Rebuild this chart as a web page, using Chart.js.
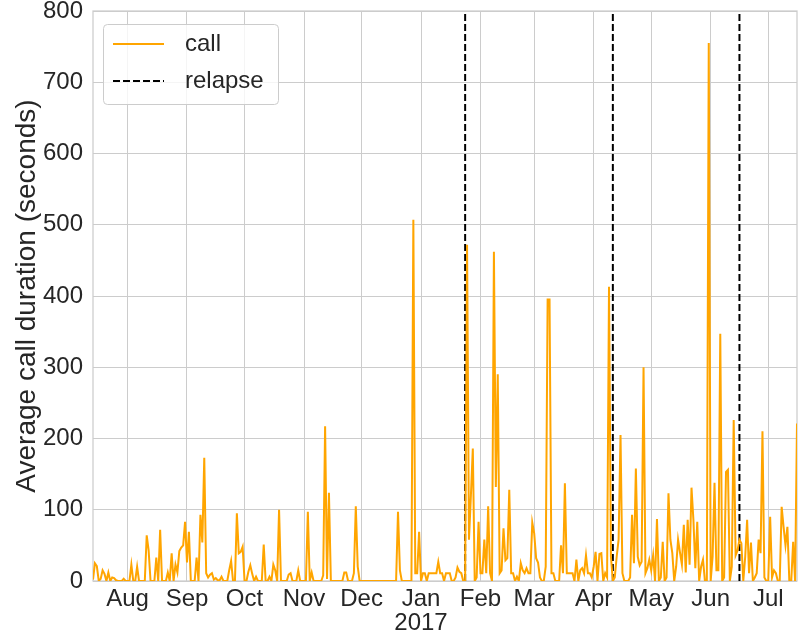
<!DOCTYPE html>
<html>
<head>
<meta charset="utf-8">
<script src="https://cdn.jsdelivr.net/npm/chart.js@4.4.0/dist/chart.umd.min.js"></script>
<style>
  html, body { margin: 0; padding: 0; background: #fff; }
  #wrap { width: 798px; height: 638px; }
</style>
</head>
<body>
<div id="wrap"><canvas id="chart" width="798" height="638"></canvas></div>
<script>
// one value per day, day 0 = 2016-07-14
const callJul16 = [2, 25, 21, 0, 3, 15, 10, 0, 12, 0, 5, 4, 1, 0, 0, 0, 3, 0];
const callAug16 = [0, 0, 23, 0, 0, 20, 0, 0, 0, 0, 64, 43, 0, 0, 0, 33, 0, 72, 0, 0, 0, 12, 0, 39, 0, 23, 12, 42, 47, 50, 83];
const callSep16 = [26, 69, 0, 0, 0, 33, 0, 93, 54, 173, 11, 5, 9, 11, 2, 4, 1, 1, 6, 0, 0, 0, 15, 28, 0, 0, 95, 39, 41, 48];
const callOct16 = [0, 0, 13, 22, 10, 0, 6, 0, 0, 0, 51, 0, 0, 6, 0, 23, 15, 0, 100, 0, 0, 0, 0, 9, 11, 0, 0, 0, 15, 0, 0];
const callNov16 = [0, 0, 97, 0, 12, 0, 0, 0, 0, 0, 8, 217, 3, 124, 0, 0, 0, 0, 0, 0, 0, 12, 12, 0, 0, 0, 11, 105, 20, 0];
const callDec16 = [0, 0, 0, 0, 0, 0, 0, 0, 0, 0, 0, 0, 0, 0, 0, 0, 0, 0, 0, 97, 15, 0, 0, 0, 0, 0, 0, 507, 11, 11, 69];
const callJan17 = [0, 11, 11, 0, 11, 11, 11, 11, 11, 27, 11, 11, 0, 11, 11, 11, 0, 0, 5, 19, 13, 11, 0, 0, 472, 58, 120, 186, 0, 5, 83];
const callFeb17 = [11, 11, 58, 11, 105, 11, 0, 462, 132, 290, 11, 15, 74, 29, 32, 128, 11, 11, 0, 6, 0, 25, 15, 11, 18, 11, 11, 82];
const callMar17 = [67, 32, 26, 5, 0, 0, 20, 395, 395, 11, 11, 0, 0, 0, 50, 11, 137, 11, 11, 11, 11, 0, 30, 0, 15, 18, 11, 36, 11, 11, 5];
const callApr17 = [20, 41, 0, 38, 39, 0, 11, 5, 413, 34, 0, 5, 34, 58, 205, 11, 0, 0, 0, 5, 93, 25, 158, 34, 22, 27, 300, 11, 18, 30];
const callMay17 = [15, 36, 0, 87, 0, 5, 55, 0, 5, 123, 58, 39, 0, 20, 58, 40, 23, 79, 12, 86, 23, 131, 86, 18, 83, 0, 20, 30, 0, 0, 755];
const callJun17 = [0, 34, 138, 15, 15, 347, 0, 5, 153, 156, 0, 20, 226, 36, 43, 58, 53, 0, 34, 86, 11, 54, 0, 5, 11, 58, 39, 210, 5, 0];
const callJul17 = [0, 90, 5, 15, 11, 0, 0, 104, 76, 50, 76, 0, 0, 55, 0, 221];

const relapseDays = [194, 271, 337];   // Jan 24, Apr 11, Jun 16 2017
const monthDays = [18, 49, 79, 110, 140, 171, 202, 230, 261, 291, 322, 352];
const monthLabels = ['Aug', 'Sep', 'Oct', 'Nov', 'Dec', ['Jan', '2017'], 'Feb', 'Mar', 'Apr', 'May', 'Jun', 'Jul'];

const callDuration = [].concat(callJul16, callAug16, callSep16, callOct16, callNov16, callDec16,
  callJan17, callFeb17, callMar17, callApr17, callMay17, callJun17, callJul17);

const FONT = "'Liberation Sans', Arial, sans-serif";
const TEXT = '#262626';
const GRID = '#cccccc';

const callPoints = callDuration.map((v, i) => ({x: i, y: v}));
const relapsePoints = [];
relapseDays.forEach(d => {
  relapsePoints.push({x: d, y: 0}, {x: d, y: 800}, {x: d, y: null});
});

// spines on all four sides, like seaborn whitegrid
const frame = {
  id: 'frame',
  beforeDatasetsDraw(chart) {
    const a = chart.chartArea, c = chart.ctx;
    c.save();
    c.strokeStyle = GRID;
    c.lineWidth = 1.25;
    c.strokeRect(a.left, a.top, a.right - a.left, a.bottom - a.top);
    c.restore();
  }
};

// legend drawn inside the axes, upper left
const insideLegend = {
  id: 'insideLegend',
  afterDraw(chart) {
    const a = chart.chartArea, c = chart.ctx;
    const x = a.left + 10, y = a.top + 13, w = 175, h = 80;
    c.save();
    c.beginPath();
    c.roundRect(x + 0.5, y + 0.5, w, h, 4);
    c.fillStyle = 'rgba(255,255,255,0.8)';
    c.fill();
    c.strokeStyle = GRID;
    c.lineWidth = 1;
    c.stroke();
    c.font = '24px ' + FONT;
    c.fillStyle = TEXT;
    c.textBaseline = 'middle';
    chart.data.datasets.forEach((ds, i) => {
      const ly = y + 20 + i * 37;
      c.beginPath();
      c.setLineDash(ds.borderDash || []);
      c.strokeStyle = ds.borderColor;
      c.lineWidth = ds.borderWidth;
      c.moveTo(x + 10, ly);
      c.lineTo(x + 61, ly);
      c.stroke();
      c.setLineDash([]);
      c.fillText(ds.label, x + 82, ly);
    });
    c.restore();
  }
};

new Chart(document.getElementById('chart'), {
  type: 'line',
  data: {
    datasets: [
      {label: 'call', data: callPoints, borderColor: '#ffa500', borderWidth: 2,
       pointRadius: 0, tension: 0, fill: false},
      {label: 'relapse', data: relapsePoints, borderColor: '#000000', borderWidth: 2,
       borderDash: [7, 3], pointRadius: 0, spanGaps: false, fill: false}
    ]
  },
  options: {
    responsive: false,
    animation: false,
    devicePixelRatio: 1,
    layout: {padding: {top: 11, right: 1, left: 0, bottom: 0}},
    plugins: {legend: {display: false}, tooltip: {enabled: false}},
    scales: {
      x: {
        type: 'linear', min: 0, max: callDuration.length - 1,
        afterBuildTicks: s => { s.ticks = monthDays.map(v => ({value: v})); },
        afterFit: s => { s.height = 57; s.paddingLeft = 0; s.paddingRight = 0; },
        ticks: {
          autoSkip: false, maxRotation: 0, padding: 6, color: TEXT,
          font: {family: FONT, size: 24, lineHeight: 1.0},
          callback: (v, i) => monthLabels[i]
        },
        grid: {color: GRID, lineWidth: 1, drawTicks: false},
        border: {display: false}
      },
      y: {
        min: 0, max: 800,
        afterFit: s => { s.width = 93; s.paddingTop = 0; s.paddingBottom = 0; },
        ticks: {stepSize: 100, padding: 10, color: TEXT, font: {family: FONT, size: 24}},
        grid: {color: GRID, lineWidth: 1, drawTicks: false},
        border: {display: false},
        title: {display: true, text: 'Average call duration (seconds)', color: TEXT,
                font: {family: FONT, size: 28}, padding: {top: 10, bottom: 0}}
      }
    }
  },
  plugins: [frame, insideLegend]
});
</script>
</body>
</html>
